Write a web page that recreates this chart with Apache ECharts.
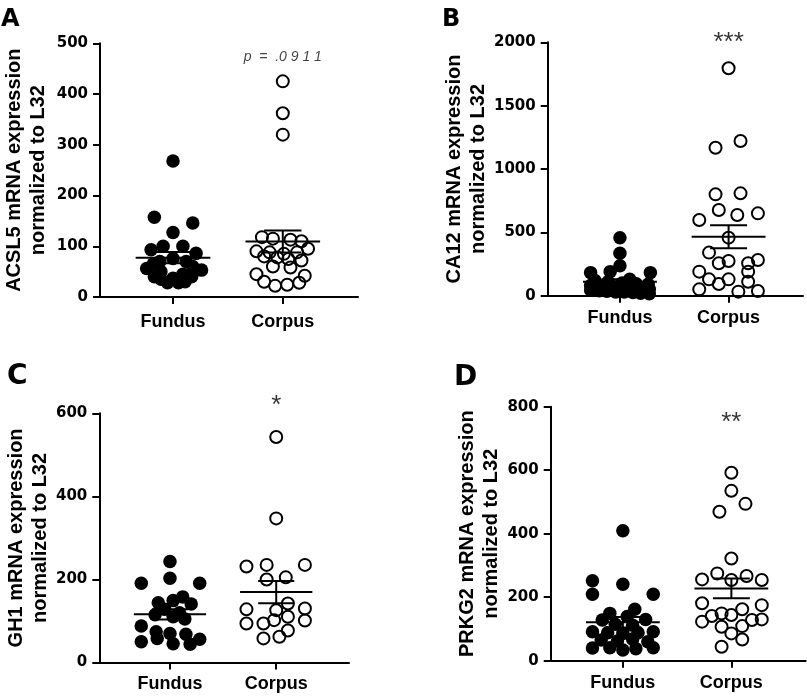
<!DOCTYPE html>
<html><head><meta charset="utf-8">
<script src="https://cdn.jsdelivr.net/npm/echarts@6/dist/echarts.min.js"></script>
<style>html,body{margin:0;padding:0;background:#fff}#c{width:807px;height:697px}</style>
</head><body><div id="c"></div>
<script>
// ---- data ----
const categories = ['Fundus', 'Corpus'];
const panelLetters = ['A', 'B', 'C', 'D'];
const yTitles = [
  'ACSL5 mRNA expression\nnormalized to L32',
  'CA12 mRNA expression\nnormalized to L32',
  'GH1 mRNA expression\nnormalized to L32',
  'PRKG2 mRNA expression\nnormalized to L32'
];
const yMax = [500, 2000, 600, 800];
const yInterval = [100, 500, 200, 200];
const sigLabels = ['p  =  .0 9 1 1', '***', '*', '**'];
const sigValues = [472, 1997, 618, 748];

// Panel A: ACSL5
const fundusA = [268,157,146,127,100,100,93,86,76,70,70,65,60,56,53,50,45,40,40,37,35,30,28,28];
const fundusA_jitter = [0,-0.17,0.18,0,-0.09,0.09,-0.2,0.21,0,-0.12,0.12,-0.18,0.18,-0.24,0.26,-0.11,0.09,-0.17,0.17,0,-0.11,0.11,-0.05,0.05];
const corpusA = [425,362,320,118,115,113,110,90,88,85,88,95,80,78,75,72,60,58,45,42,30,22,24,28];
const corpusA_jitter = [0,0,0,-0.19,-0.09,0.07,0.17,-0.24,-0.12,0.01,0.13,0.23,-0.17,-0.05,0.05,0.17,-0.09,0.07,-0.24,0.2,-0.17,-0.07,0.04,0.15];

// Panel B: CA12
const fundusB = [458,335,237,190,182,182,130,120,110,100,95,90,80,75,70,60,55,50,45,40,35,30,30,25,20,15];
const fundusB_jitter = [0,0,0,-0.09,-0.27,0.28,0.09,-0.23,-0.11,0.02,0.15,0.26,-0.27,-0.16,-0.05,0.05,0.16,0.27,-0.27,-0.19,-0.12,-0.04,0.04,0.12,0.19,0.27];
const corpusB = [1795,1221,1168,808,800,676,650,637,597,458,340,282,274,256,256,190,190,129,129,110,92,50,37,32];
const corpusB_jitter = [0,0.11,-0.12,0.11,-0.12,-0.09,0.27,0.08,-0.27,0,-0.18,0.27,0,-0.09,0.18,-0.27,0.18,-0.18,0,0.18,-0.09,-0.27,0.27,0.09];

// Panel C: GH1
const fundusC = [243,203,191,191,158,149,144,141,128,120,115,110,105,88,74,70,68,58,56,50,45,44];
const fundusC_jitter = [0,0,-0.27,0.28,0.12,0.03,-0.11,0.2,-0.05,0.09,-0.14,0.03,0.14,-0.27,-0.13,0,0.15,-0.12,0.28,-0.27,0.03,0.19];
const corpusC = [543,347,235,235,231,205,200,142,130,128,126,110,102,101,94,94,77,62,58];
const corpusC_jitter = [0,0,-0.09,0.27,-0.28,0.09,-0.09,0.11,0.27,-0.28,0,0.11,-0.02,0.27,-0.28,-0.12,0.11,0.03,-0.12];

// Panel D: PRKG2
const fundusD = [409,252,241,209,209,149,162,128,139,130,115,112,91,88,86,88,91,65,62,68,60,40,41,34,38,41];
const fundusD_jitter = [0,-0.28,0,-0.28,0.28,-0.12,0.11,-0.19,0.04,0.21,-0.07,0.09,-0.28,-0.14,0,0.14,0.28,-0.2,-0.05,0.09,0.23,-0.28,-0.12,0,0.12,0.28];
const corpusD = [592,535,494,469,322,275,267,256,254,254,181,175,162,149,144,141,130,128,123,109,107,86,67,44];
const corpusD_jitter = [0,0,0.13,-0.11,0,-0.13,0.14,-0.27,0.28,0,-0.27,0.28,0.1,-0.09,0,-0.18,0.28,0.19,-0.27,0.1,-0.09,0,0.1,-0.09];

// ---- layout ----
const panels = [
  {f: fundusA, fj: fundusA_jitter, c: corpusA, cj: corpusA_jitter},
  {f: fundusB, fj: fundusB_jitter, c: corpusB, cj: corpusB_jitter},
  {f: fundusC, fj: fundusC_jitter, c: corpusC, cj: corpusC_jitter},
  {f: fundusD, fj: fundusD_jitter, c: corpusD, cj: corpusD_jitter}
];
const grids = [
  {left: 100, top: 43.3, width: 258, height: 253.7},
  {left: 547.7, top: 42.3, width: 255.3, height: 253.4},
  {left: 99.3, top: 413.3, width: 249.7, height: 249.2},
  {left: 550.7, top: 406.7, width: 255, height: 254}
];
const nameGaps = [50, 55, 44, 45];
const labelMarginsX = [16, 13, 13, 13];
const letterPos = [
  {left: 1, top: 8, size: 24},
  {left: 442, top: 8, size: 24},
  {left: 7, top: 363, size: 28},
  {left: 454, top: 364, size: 28}
];
const sansFont = "'Liberation Sans', Arial, sans-serif";
const wideFont = "'DejaVu Sans', sans-serif";

function stats(arr) {
  const n = arr.length;
  const m = arr.reduce((a, b) => a + b, 0) / n;
  const sd = Math.sqrt(arr.reduce((a, b) => a + (b - m) * (b - m), 0) / (n - 1));
  return {mean: m, sem: sd / Math.sqrt(n)};
}

const black = '#000';
const xAxes = [], yAxes = [], series = [], titles = [];

panels.forEach((p, i) => {
  titles.push({
    text: panelLetters[i], left: letterPos[i].left, top: letterPos[i].top, padding: 0,
    textStyle: {fontFamily: wideFont, fontWeight: 'bold', fontSize: letterPos[i].size, color: black}
  });
  xAxes.push({
    gridIndex: i, type: 'value', min: 0.335, max: 2.685,
    axisLine: {show: true, onZero: false, lineStyle: {color: black, width: 2}},
    axisTick: {show: true, customValues: [1, 2], length: 7, lineStyle: {color: black, width: 2}},
    axisLabel: {show: true, customValues: [1, 2], margin: labelMarginsX[i],
      formatter: v => categories[Math.round(v) - 1] || '',
      fontFamily: sansFont, fontWeight: 'bold', fontSize: 18, color: black},
    splitLine: {show: false}
  });
  yAxes.push({
    gridIndex: i, type: 'value', min: 0, max: yMax[i], interval: yInterval[i],
    axisLine: {show: true, onZero: false, lineStyle: {color: black, width: 2}},
    axisTick: {show: true, length: 7, lineStyle: {color: black, width: 2}},
    axisLabel: {margin: 12, formatter: v => String(v),
      fontFamily: wideFont, fontWeight: 'bold', fontSize: 15, color: black},
    splitLine: {show: false},
    name: yTitles[i], nameLocation: 'middle', nameGap: nameGaps[i], nameRotate: 90,
    nameTextStyle: {fontFamily: sansFont, fontWeight: 'bold', fontSize: 20, lineHeight: 24, color: black}
  });
  series.push({
    type: 'scatter', xAxisIndex: i, yAxisIndex: i, symbol: 'circle', symbolSize: 13.5,
    itemStyle: {color: black, opacity: 1}, z: 2,
    data: p.f.map((v, j) => [1 + p.fj[j], v])
  });
  series.push({
    type: 'scatter', xAxisIndex: i, yAxisIndex: i, symbol: 'circle', symbolSize: 12,
    itemStyle: {color: 'rgba(0,0,0,0)', borderColor: black, borderWidth: 2, opacity: 1}, z: 3,
    data: p.c.map((v, j) => [2 + p.cj[j], v])
  });
  const sf = stats(p.f), sc = stats(p.c);
  series.push({
    type: 'custom', xAxisIndex: i, yAxisIndex: i, z: 4, silent: true,
    data: [[1, sf.mean, sf.mean - sf.sem, sf.mean + sf.sem], [2, sc.mean, sc.mean - sc.sem, sc.mean + sc.sem]],
    renderItem: (params, api) => {
      const x = api.value(0), m = api.value(1), lo = api.value(2), hi = api.value(3);
      const seg = (a, b) => {
        const p1 = api.coord(a), p2 = api.coord(b);
        return {type: 'line', shape: {x1: p1[0], y1: p1[1], x2: p2[0], y2: p2[1]},
          style: {stroke: black, lineWidth: 2}};
      };
      return {type: 'group', children: [
        seg([x - 0.34, m], [x + 0.34, m]),
        seg([x, lo], [x, hi]),
        seg([x - 0.17, hi], [x + 0.17, hi]),
        seg([x - 0.17, lo], [x + 0.17, lo])
      ]};
    }
  });
  const isP = i === 0;
  series.push({
    type: 'scatter', xAxisIndex: i, yAxisIndex: i, symbolSize: 0, clip: false, silent: true,
    data: [[2, sigValues[i]]],
    label: {show: true, position: 'inside', formatter: sigLabels[i], color: isP ? '#111' : black,
      fontFamily: sansFont, fontStyle: isP ? 'italic' : 'normal',
      fontWeight: 'normal', fontSize: isP ? 14 : 26}
  });
});

const chart = echarts.init(document.getElementById('c'), null, {renderer: 'canvas'});
chart.setOption({
  animation: false,
  backgroundColor: '#fff',
  title: titles,
  grid: grids,
  xAxis: xAxes,
  yAxis: yAxes,
  series: series
});
</script>
</body></html>
